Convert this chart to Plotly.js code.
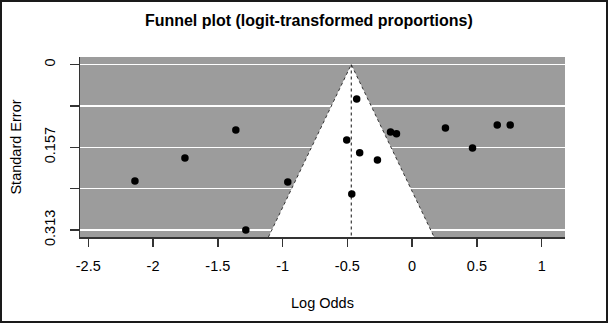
<!DOCTYPE html>
<html>
<head>
<meta charset="utf-8">
<script src="https://cdn.plot.ly/plotly-3.0.1.min.js"></script>
<style>
  html, body { margin: 0; padding: 0; background: #ffffff; }
  #wrap { position: relative; width: 608px; height: 323px; }
  #chart { width: 608px; height: 323px; }
  #frame { position: absolute; left: 0; top: 0; width: 608px; height: 323px; box-sizing: border-box; border: 2px solid #1a1a1a; pointer-events: none; }
</style>
</head>
<body>
<div id="wrap"><div id="chart"></div><div id="frame"></div></div>
<script>
// ---- data ----
const logOdds = [-2.14, -1.754, -1.361, -1.284, -0.960, -0.428, -0.505, -0.405, -0.268, -0.466, -0.167, -0.121, 0.257, 0.466, 0.657, 0.757];
const stdErr  = [0.2203, 0.1768, 0.1239, 0.313, 0.222, 0.065, 0.1428, 0.167, 0.1806, 0.245, 0.1276, 0.131, 0.120, 0.158, 0.1144, 0.1144];
const estimate = -0.47;          // pooled log odds (funnel centre)
const zCrit = 1.96;              // 95% pseudo-confidence region
const yTickVals = [0, 0.07825, 0.1565, 0.23475, 0.313];
const yTickText = ["0", "", "0.157", "", "0.313"];
const xTickVals = [-2.5, -2, -1.5, -1, -0.5, 0, 0.5, 1];
const xTickText = ["-2.5", "-2", "-1.5", "-1", "-0.5", "0", "0.5", "1"];
const xRange = [-2.564, 1.180];
const yRange = [0.3262, -0.0142];

const seBottom = yRange[0];
const funnelX = [estimate - zCrit * seBottom, estimate, estimate + zCrit * seBottom];
const funnelY = [seBottom, 0, seBottom];

const traces = [
  { // white funnel region
    x: funnelX, y: funnelY, type: 'scatter', mode: 'lines',
    fill: 'toself', fillcolor: '#ffffff', line: { width: 0, color: 'rgba(0,0,0,0)' },
    hoverinfo: 'skip', showlegend: false
  },
  { // funnel edges
    x: funnelX, y: funnelY, type: 'scatter', mode: 'lines',
    line: { color: '#333333', width: 1, dash: 'dot' },
    hoverinfo: 'skip', showlegend: false
  },
  { // vertical line at estimate
    x: [estimate, estimate], y: [0, seBottom], type: 'scatter', mode: 'lines',
    line: { color: '#111111', width: 1, dash: 'dot' },
    hoverinfo: 'skip', showlegend: false
  },
  { // studies
    x: logOdds, y: stdErr, type: 'scatter', mode: 'markers',
    marker: { color: '#000000', size: 7.5 },
    showlegend: false
  }
];

const fontFam = 'Liberation Sans, Arial, Helvetica, sans-serif';
const layout = {
  width: 608, height: 323,
  margin: { l: 80, r: 43, t: 57, b: 86, pad: 0 },
  paper_bgcolor: '#ffffff',
  plot_bgcolor: '#9c9c9c',
  font: { family: fontFam, size: 14, color: '#000000' },
  title: {
    text: '<b>Funnel plot (logit-transformed proportions)</b>',
    font: { family: fontFam, size: 16, color: '#000000' },
    x: 0.508, xanchor: 'center', y: 0.938, yanchor: 'middle'
  },
  xaxis: {
    range: xRange, showgrid: false, zeroline: false,
    showline: true, linecolor: '#333333', linewidth: 1.5,
    ticks: 'outside', ticklen: 8, tickcolor: '#333333', tickwidth: 1.5,
    ticklabelstandoff: 7,
    tickvals: xTickVals, ticktext: xTickText,
    tickfont: { family: fontFam, size: 14.5, color: '#000000' },
    title: { text: 'Log Odds', font: { family: fontFam, size: 14.5, color: '#000000' }, standoff: 25 }
  },
  yaxis: {
    range: yRange, zeroline: false,
    showgrid: true, gridcolor: '#ffffff', gridwidth: 1.5,
    showline: true, linecolor: '#333333', linewidth: 1.5,
    ticks: 'outside', ticklen: 9, tickcolor: '#333333', tickwidth: 1.5,
    ticklabelstandoff: 9,
    tickvals: yTickVals, ticktext: yTickText, tickangle: -90,
    tickfont: { family: fontFam, size: 14.5, color: '#000000' },
    title: { text: 'Standard Error', font: { family: fontFam, size: 14.5, color: '#000000' }, standoff: 16 }
  }
};

Plotly.newPlot('chart', traces, layout, { displayModeBar: false, staticPlot: true });
</script>
</body>
</html>
